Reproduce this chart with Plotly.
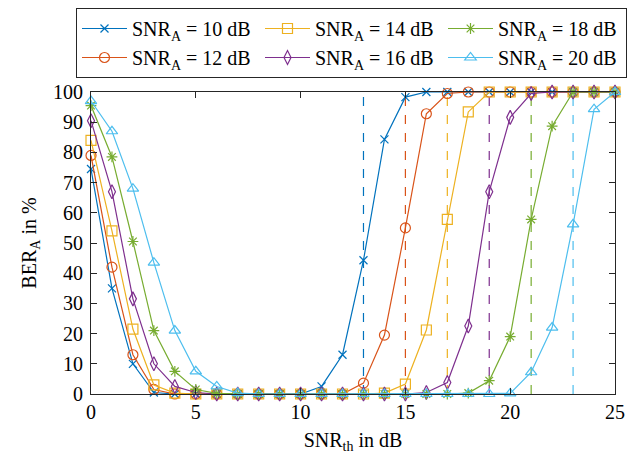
import plotly.graph_objects as go

snr_th = list(range(26))

ber_10 = [74.5, 35, 10, 0.5, 0, 0, 0, 0, 0, 0, 0, 2.5, 13, 44.3, 84.3, 98.3, 100, 100, 100, 100, 100, 100, 100, 100, 100, 100]
ber_12 = [79, 42, 13, 1.5, 0, 0, 0, 0, 0, 0, 0, 0, 0, 3.6, 19.5, 55, 92.8, 99.5, 100, 100, 100, 100, 100, 100, 100, 100]
ber_14 = [84, 54, 21.5, 3, 0.3, 0, 0, 0, 0, 0, 0, 0, 0, 0, 0.3, 3.3, 21.2, 57.8, 93.4, 100, 100, 100, 100, 100, 100, 100]
ber_16 = [90.5, 67, 31.5, 10, 2.5, 0.5, 0, 0, 0, 0, 0, 0, 0, 0, 0, 0, 0.5, 3.8, 22.5, 67, 91.6, 99.5, 100, 100, 100, 100]
ber_18 = [95.5, 78.5, 50.5, 21, 7.5, 1.5, 0.2, 0, 0, 0, 0, 0, 0, 0, 0, 0, 0, 0, 0.3, 4.4, 19, 57.8, 88.7, 100, 100, 100]
ber_20 = [97, 87, 68, 43.5, 21, 7.5, 2.5, 0.3, 0, 0, 0, 0, 0, 0, 0, 0, 0, 0, 0, 0, 0.2, 7.2, 22, 56.2, 94.3, 100]

series_names = ["10", "12", "14", "16", "18", "20"]
series_values = [ber_10, ber_12, ber_14, ber_16, ber_18, ber_20]
thresholds = [13, 15, 17, 19, 21, 23]

colors = ["#0072BD", "#D95319", "#EDB120", "#7E2F8E", "#77AC30", "#4DBEEE"]
symbols = ["x-thin-open", "circle-open", "square-open", "diamond-tall-open", "asterisk-open", "triangle-up-open"]
msizes = [8, 10, 10, 10, 9, 10]
ranks = [1, 4, 2, 5, 3, 6]

FONT = "Liberation Serif"
FS = 20

W, H = 635, 457
ML, MR, MT, MB = 83, 28, 84, 71
PW, PH = W - ML - MR, H - MT - MB

fig = go.Figure()

for name, vals, c, thr in zip(series_names, series_values, colors, thresholds):
    fig.add_trace(go.Scatter(
        x=[thr, thr], y=[0, 100], mode="lines",
        line=dict(color=c, width=1.2, dash="dash"),
        showlegend=False, hoverinfo="skip"))

for name, vals, c, s, ms, r in zip(series_names, series_values, colors, symbols, msizes, ranks):
    fig.add_trace(go.Scatter(
        x=snr_th, y=vals, mode="lines+markers",
        name=f"SNR<sub>A</sub> = {name} dB",
        line=dict(color=c, width=1.2),
        marker=dict(symbol=s, size=ms, color=c, line=dict(color=c, width=1.2)),
        cliponaxis=False, legendrank=r))

axis_common = dict(
    showline=True, linecolor="#262626", linewidth=1, mirror="ticks",
    ticks="inside", ticklen=6, tickcolor="#262626", tickwidth=1,
    showgrid=False, zeroline=False,
    tickfont=dict(family=FONT, size=FS, color="black"),
)

fig.update_xaxes(range=[0, 25], tickvals=[0, 5, 10, 15, 20, 25],
                 title=dict(text="SNR<sub>th</sub> in dB", font=dict(family=FONT, size=FS, color="black"), standoff=10),
                 **axis_common)
fig.update_yaxes(range=[0, 100], tickvals=list(range(0, 101, 10)),
                 ticklabelstandoff=3,
                 title=dict(text="BER<sub>A</sub> in %", font=dict(family=FONT, size=FS, color="black"), standoff=11),
                 **axis_common)

fig.update_layout(
    width=W, height=H,
    margin=dict(l=ML, r=MR, t=MT, b=MB, autoexpand=False),
    plot_bgcolor="white", paper_bgcolor="white",
    font=dict(family=FONT, size=FS, color="black"),
    legend=dict(
        orientation="h", xref="paper", yref="paper",
        x=(68 - ML) / PW, y=1 + MT / PH, xanchor="left", yanchor="top",
        bordercolor="#262626", borderwidth=1, bgcolor="white",
        entrywidth=123, entrywidthmode="pixels",
        traceorder="normal",
        font=dict(family=FONT, size=FS, color="black"),
        itemwidth=45,
    ),
)

fig.write_html("out.html")
